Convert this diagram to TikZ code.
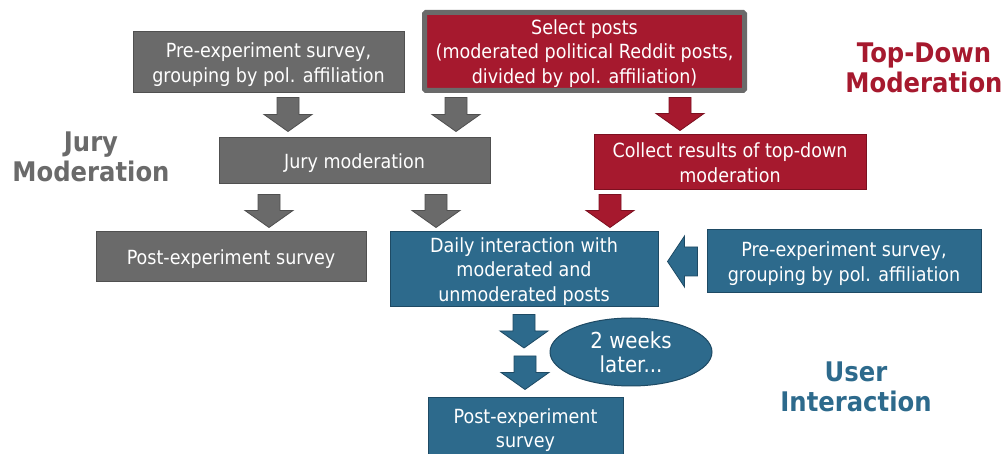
\documentclass[tikz,border=0pt]{standalone}
\usepackage{fontspec}
\setmainfont{DejaVu Sans}[FakeStretch=0.9]
\usetikzlibrary{calc,shapes.geometric}
\definecolor{cGray}{HTML}{6A6A6A}
\definecolor{cGrayLine}{HTML}{505050}
\definecolor{cRed}{HTML}{A6192E}
\definecolor{cRedLine}{HTML}{7C1020}
\definecolor{cBlue}{HTML}{2D6A8C}
\definecolor{cBlueLine}{HTML}{1E4A64}
\tikzset{
  boxbase/.style={inner sep=0pt, align=center, text=white, line width=1pt},
  box/.style={rectangle, boxbase, text depth=-3pt,
    font=\fontsize{19.5}{24.5}\selectfont},
  graybox/.style={box, fill=cGray, draw=cGrayLine},
  redbox/.style={box, fill=cRed, draw=cRedLine},
  bluebox/.style={box, fill=cBlue, draw=cBlueLine},
  grouplabel/.style={align=center, inner sep=0pt, font=\fontsize{27}{30}\selectfont\bfseries},
}
% vertical block arrow: fill, line, from, to, gap at start, gap at end
\newcommand\blkv[6]{%
  \filldraw[fill=#1, draw=#2, line width=0.8pt] let \p1=#3, \p2=#4 in
    (\x1-11pt,\y1-#5) -- (\x1+11pt,\y1-#5) -- (\x1+11pt,\y2+#6+17pt) --
    (\x1+24pt,\y2+#6+17pt) -- (\x1,\y2+#6) -- (\x1-24pt,\y2+#6+17pt) --
    (\x1-11pt,\y2+#6+17pt) -- cycle;}
\begin{document}
\begin{tikzpicture}[x=1pt,y=-1pt]
\useasboundingbox (0,0) rectangle (1005,454);

% boxes
\node[graybox, minimum width=271pt, minimum height=61pt] (pre1) at (268.5,62.5)
  {Pre-experiment survey,\\grouping by pol. affiliation};
\node[box, fill=cRed, draw=cGray, line width=5pt, rounded corners=1.5pt,
  minimum width=320pt, minimum height=78pt] (sel) at (584.5,51.5)
  {Select posts\\(moderated political Reddit posts,\\divided by pol. affiliation)};
\node[graybox, minimum width=271pt, minimum height=46pt] (jury) at (354.5,161)
  {Jury moderation};
\node[redbox, minimum width=272pt, minimum height=55pt] (coll) at (730,162.5)
  {Collect results of top-down\\moderation};
\node[graybox, minimum width=270pt, minimum height=50pt] (post1) at (231,257)
  {Post-experiment survey};
\node[bluebox, minimum width=268pt, minimum height=75pt] (daily) at (524,269.5)
  {Daily interaction with\\moderated and\\unmoderated posts};
\node[bluebox, minimum width=274pt, minimum height=63pt] (pre2) at (844,261.5)
  {Pre-experiment survey,\\grouping by pol. affiliation};
\node[ellipse, boxbase, fill=cBlue, draw=cBlueLine, minimum width=162pt, minimum height=68pt,
  font=\fontsize{22}{24}\selectfont] (ell) at (631,352)
  {2 weeks\\later...};
\node[bluebox, minimum width=195pt, minimum height=60pt] (post2) at (525.5,428)
  {Post-experiment\\survey};

% group labels
\node[grouplabel, text=cGray] (lJury) at (91,157) {Jury\\Moderation};
\node[grouplabel, text=cRed] (lTop) at (924,68) {Top-Down\\Moderation};
\node[grouplabel, text=cBlue] (lUser) at (856,387) {User\\Interaction};

\coordinate (mid) at (525,352);

% block arrows
\blkv{cGray}{cGrayLine}{(288,0 |- pre1.south)}{(288,0 |- jury.north)}{4pt}{6pt}
\blkv{cGray}{cGrayLine}{(456,0 |- pre1.south)}{(456,0 |- jury.north)}{4pt}{6pt}
\blkv{cRed}{cRedLine}{(680,0 |- pre1.south)}{(680,0 |- coll.north)}{4pt}{4pt}
\blkv{cGray}{cGrayLine}{(269,0 |- jury.south)}{(269,0 |- post1.north)}{10pt}{4pt}
\blkv{cGray}{cGrayLine}{(436,0 |- jury.south)}{(436,0 |- daily.north)}{10pt}{4pt}
\blkv{cRed}{cRedLine}{(610,0 |- coll.south)}{(610,0 |- daily.north)}{4pt}{4pt}
\blkv{cBlue}{cBlueLine}{(daily.south)}{(mid)}{7pt}{4pt}
\blkv{cBlue}{cBlueLine}{(mid)}{(post2.north)}{4pt}{8pt}

\filldraw[fill=cBlue, draw=cBlueLine, line width=0.8pt]
  let \p1=(pre2.west), \p2=(daily.east) in
  (\x1-9pt,\y1+14.5pt) -- (\x2+26pt,\y1+14.5pt) -- (\x2+26pt,\y1+25.5pt) --
  (\x2+9pt,\y1) -- (\x2+26pt,\y1-25.5pt) -- (\x2+26pt,\y1-14.5pt) --
  (\x1-9pt,\y1-14.5pt) -- cycle;
\end{tikzpicture}
\end{document}
